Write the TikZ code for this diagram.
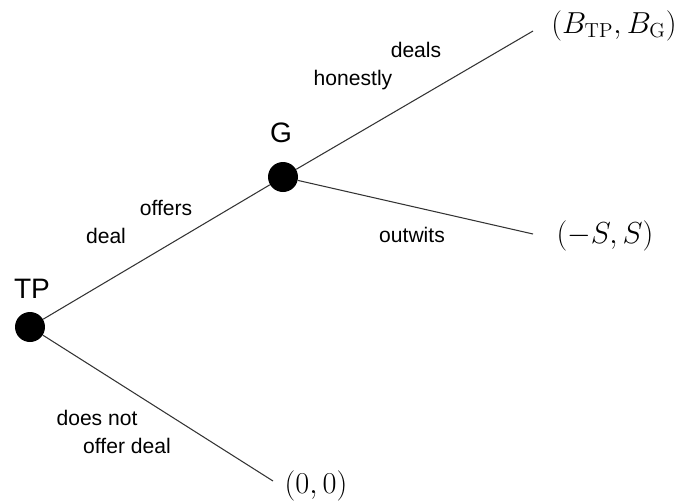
\documentclass[tikz,border=0pt]{standalone}
\usepackage{fontspec}
\newfontfamily\arialf{Liberation Sans}

\begin{document}
\begin{tikzpicture}[
  x=0.02cm, y=-0.02cm,
  dec/.style={circle, fill=black, minimum size=6mm, inner sep=0pt},
  player/.style={font=\arialf\fontsize{16}{18}\selectfont, inner sep=0pt, anchor=base},
  lbl/.style={font=\arialf\fontsize{12}{14}\selectfont, inner sep=0pt, anchor=base},
  pay/.style={font=\fontsize{16.5}{18}\selectfont, inner sep=0pt, anchor=base},
  edge/.style={black!80, line width=0.6pt}
]
\useasboundingbox (0,0) rectangle (676,501);

% decision nodes
\node[dec] (tp) at (30,327) {};
\node[dec] (g) at (283,177) {};
\node[player] (tplbl) at (32,298) {TP};
\node[player] (glbl) at (281,142) {G};

% ends of the branches
\coordinate (honest) at (533,31);
\coordinate (outwit) at (533,234);
\coordinate (nodeal) at (273,481);

% payoffs
\node[pay] (payh) at (614,33) {$(B_{\mathrm{TP}},B_{\mathrm{G}})$};
\node[pay] (payo) at (605,243) {$(-S,S)$};
\node[pay] (payn) at (316,493) {$(0,0)$};

\draw[edge] (tp) -- (g);
\draw[edge] (g) -- (honest);
\draw[edge] (g) -- (outwit);
\draw[edge] (tp) -- (nodeal);

% branch labels
\node[lbl] (offers) at (166,215) {offers};
\node[lbl] (deal) at (106,243) {deal};
\node[lbl] (deals) at (416,57) {deals};
\node[lbl] (honestly) at (353,85) {honestly};
\node[lbl] (outwits) at (412,242) {outwits};
\node[lbl] (doesnot) at (97,425) {does not};
\node[lbl] (offerdeal) at (127,453) {offer deal};
\end{tikzpicture}
\end{document}
